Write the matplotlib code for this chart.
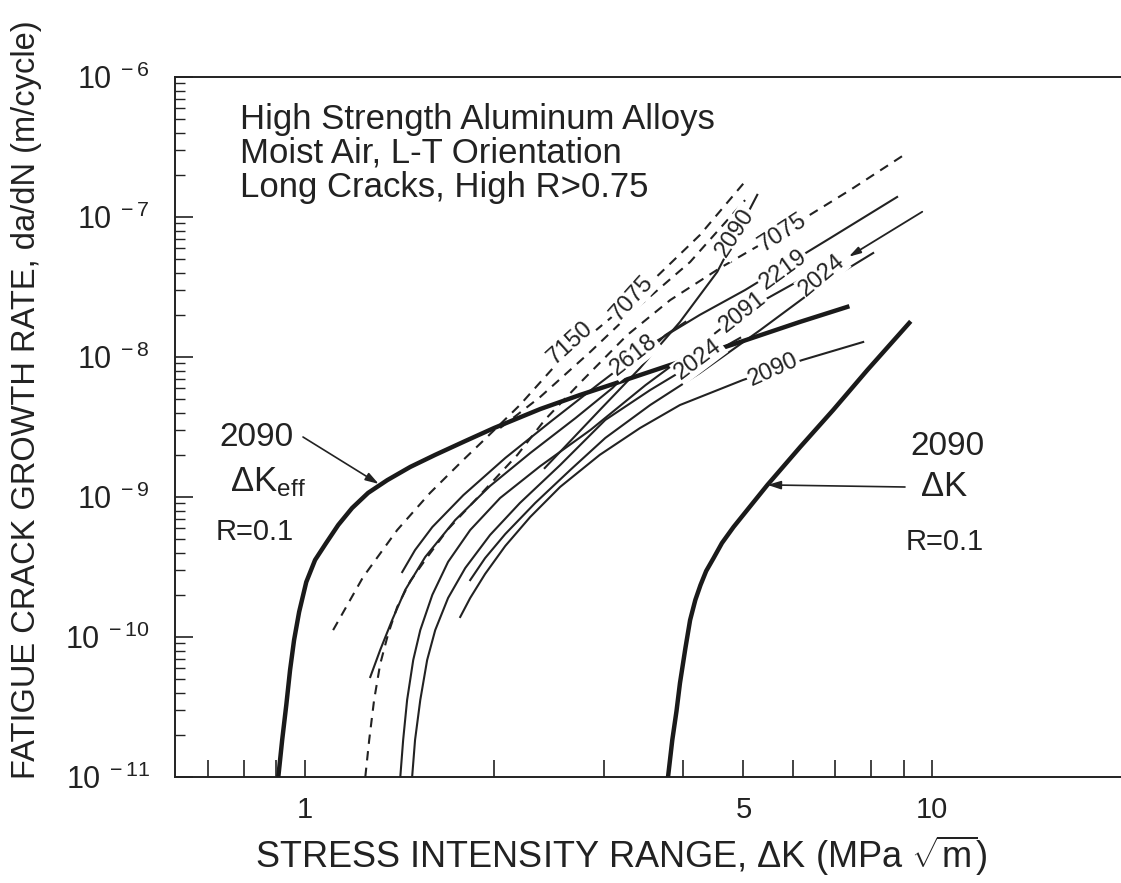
import math
import matplotlib
matplotlib.use('Agg')
import matplotlib.pyplot as plt
from matplotlib.ticker import FixedLocator, FixedFormatter, NullLocator, FuncFormatter

plt.rcParams['font.family'] = ['Liberation Sans', 'DejaVu Sans']
plt.rcParams['mathtext.fontset'] = 'custom'
plt.rcParams['mathtext.rm'] = 'Liberation Sans'
plt.rcParams['mathtext.it'] = 'Liberation Sans:italic'
plt.rcParams['mathtext.bf'] = 'Liberation Sans:bold'

# 2090, delta K_eff, R=0.1 (bold, left)
keff_2090_K = [0.906, 0.919, 0.933, 0.946, 0.960, 0.978, 1.004, 1.037, 1.080, 1.129, 1.188, 1.26, 1.352,
               1.471, 1.612, 1.80, 2.001, 2.371, 2.745, 3.099, 3.82, 4.89, 6.15, 7.32]
keff_2090_da = [1e-11, 1.84e-11, 3.27e-11, 5.81e-11, 9.5e-11, 1.51e-10, 2.47e-10, 3.55e-10, 4.69e-10, 6.31e-10,
                8.34e-10, 1.07e-9, 1.32e-9, 1.64e-9, 2.0e-9, 2.51e-9, 3.11e-9, 4.25e-9, 5.36e-9, 6.41e-9,
                8.77e-9, 1.26e-8, 1.78e-8, 2.28e-8]

# 2090, delta K, R=0.1 (bold, right)
dk_2090_K = [3.79, 3.85, 3.91, 3.96, 4.04, 4.11, 4.19, 4.27, 4.36, 4.48, 4.62, 4.82, 5.13, 5.46, 6.16, 6.95, 7.88, 9.19]
dk_2090_da = [1e-11, 1.84e-11, 2.96e-11, 4.69e-11, 8.34e-11, 1.32e-10, 1.84e-10, 2.35e-10, 2.96e-10, 3.66e-10,
              4.69e-10, 6.1e-10, 8.63e-10, 1.22e-9, 2.28e-9, 4.18e-9, 8.07e-9, 1.75e-8]

# high R long crack curves, dashed
a7150_K = [1.108, 1.237, 1.402, 1.582, 1.787, 1.95, 2.20, 2.55, 3.07, 3.59, 4.26, 5.07]
a7150_da = [1.12e-10, 2.68e-10, 5.81e-10, 1.07e-9, 1.84e-9, 2.68e-9, 4.54e-9, 9.5e-9, 1.90e-8, 3.55e-8, 7.43e-8, 1.87e-7]

a7075a_K = [2.046, 2.37, 2.85, 3.32, 4.11, 5.03]
a7075a_da = [3.11e-9, 5.18e-9, 1.09e-8, 2.09e-8, 4.77e-8, 1.32e-7]

a7075b_K = [1.247, 1.265, 1.288, 1.317, 1.356, 1.402, 1.471, 1.554, 1.685, 1.881, 2.18, 2.41, 2.75, 3.26, 3.82,
            4.59, 5.76, 7.40, 9.12]
a7075b_da = [1e-11, 1.84e-11, 3.55e-11, 6.4e-11, 1.05e-10, 1.64e-10, 2.51e-10, 3.55e-10, 5.81e-10, 9.84e-10,
             2.0e-9, 3.55e-9, 6.6e-9, 1.43e-8, 2.55e-8, 4.33e-8, 7.8e-8, 1.56e-7, 2.87e-7]

# high R long crack curves, solid
a2618_K = [1.27, 1.317, 1.376, 1.444, 1.554, 1.735, 1.972, 2.285, 2.70, 3.09, 3.42, 3.75, 4.04]
a2618_da = [5.18e-11, 8.07e-11, 1.32e-10, 2.17e-10, 3.73e-10, 6.85e-10, 1.20e-9, 2.06e-9, 3.67e-9, 6.0e-9,
            9.5e-9, 1.43e-8, 1.78e-8]

a2219_K = [1.428, 1.497, 1.595, 1.787, 2.085, 2.46, 2.95, 3.55, 4.26, 5.03, 6.88, 8.79]
a2219_da = [2.91e-10, 4.18e-10, 6.1e-10, 1.03e-9, 1.90e-9, 3.44e-9, 6.5e-9, 1.22e-8, 2.0e-8, 3.01e-8, 7.08e-8, 1.39e-7]

a2091_K = [1.418, 1.433, 1.454, 1.487, 1.526, 1.595, 1.69, 1.833, 2.046, 2.37, 2.85, 3.49, 4.26, 4.98, 6.16]
a2091_da = [1e-11, 1.84e-11, 3.55e-11, 6.85e-11, 1.12e-10, 2.0e-10, 3.44e-10, 5.81e-10, 9.84e-10, 1.66e-9,
            3.01e-9, 6.3e-9, 1.22e-8, 2.09e-8, 3.55e-8]

a2024a_K = [1.481, 1.497, 1.526, 1.565, 1.612, 1.69, 1.80, 1.972, 2.20, 2.55, 3.01, 3.55, 4.11, 4.94]
a2024a_da = [1e-11, 1.84e-11, 3.55e-11, 6.85e-11, 1.12e-10, 1.90e-10, 3.11e-10, 5.36e-10, 9.06e-10, 1.69e-9,
             3.55e-9, 5.81e-9, 8.63e-9, 1.37e-8]

a2024b_K = [1.833, 1.936, 2.085, 2.327, 2.647, 3.01, 3.55, 4.26, 5.32, 6.68, 8.05]
a2024b_da = [2.55e-10, 3.66e-10, 5.44e-10, 9.06e-10, 1.56e-9, 2.64e-9, 4.54e-9, 7.69e-9, 1.56e-8, 3.32e-8, 5.53e-8]

a2090_K = [1.767, 1.833, 1.936, 2.085, 2.285, 2.55, 2.95, 3.42, 3.96, 4.99, 6.20, 7.76]
a2090_da = [1.39e-10, 1.90e-10, 2.82e-10, 4.47e-10, 7.2e-10, 1.18e-9, 2.0e-9, 3.11e-9, 4.54e-9, 6.85e-9,
            9.5e-9, 1.28e-8]

a2090s_K = [2.41, 2.95, 3.42, 3.96, 4.54, 5.26]
a2090s_da = [1.61e-9, 4.18e-9, 8.34e-9, 1.78e-8, 4.05e-8, 1.44e-7]

# curve labels: text, K, da/dN, rotation
curve_labels = [
    ('7150', 2.647, 1.26e-8, 42),
    ('7075', 3.32, 2.64e-8, 48),
    ('2090', 4.85, 7.69e-8, 57),
    ('7075', 5.77, 7.69e-8, 33),
    ('2618', 3.34, 1.03e-8, 38),
    ('2219', 5.79, 4.18e-8, 36),
    ('2091', 4.98, 2.09e-8, 38),
    ('2024', 6.68, 3.85e-8, 40),
    ('2024', 4.24, 9.67e-9, 37),
    ('2090', 5.58, 8.07e-9, 24),
]

# axis ticks
x_ticks = [0.7, 0.8, 0.9, 1, 2, 3, 4, 5, 6, 7, 8, 9, 10]
x_tick_labels = ['', '', '', '1', '', '', '', '5', '', '', '', '', '10']
y_decades = [-11, -10, -9, -8, -7, -6]

W, H = 1121, 883
INK = '#222222'
fig = plt.figure(figsize=(W / 100, H / 100), dpi=100)
ax = fig.add_axes([175 / W, 1 - 777 / H, 1 - 175 / W, 700 / H])
ax.set_xscale('log')
ax.set_yscale('log')
ax.set_xlim(0.62, 20.0)
ax.set_ylim(1e-11, 1e-6)

dash = (0, (4.5, 3.5))
for K, da in [(a7150_K, a7150_da), (a7075a_K, a7075a_da), (a7075b_K, a7075b_da)]:
    ax.plot(K, da, color=INK, lw=1.5, linestyle=dash, zorder=2)
for K, da in [(a2618_K, a2618_da), (a2219_K, a2219_da), (a2091_K, a2091_da),
              (a2024a_K, a2024a_da), (a2024b_K, a2024b_da), (a2090_K, a2090_da),
              (a2090s_K, a2090s_da)]:
    ax.plot(K, da, color=INK, lw=1.5, zorder=2)
ax.plot(keff_2090_K, keff_2090_da, color='#1a1a1a', lw=3.2, zorder=3, solid_joinstyle='round')
ax.plot(dk_2090_K, dk_2090_da, color='#1a1a1a', lw=3.2, zorder=3, solid_joinstyle='round')

for txt, k, d, rot in curve_labels:
    ax.text(k, d, txt, fontsize=17, rotation=rot, rotation_mode='anchor',
            ha='center', va='center', color=INK, zorder=5,
            bbox=dict(boxstyle='square,pad=0.06', fc='white', ec='none'))

ax.xaxis.set_major_locator(FixedLocator(x_ticks))
ax.xaxis.set_major_formatter(FixedFormatter(x_tick_labels))
ax.xaxis.set_minor_locator(NullLocator())
ax.tick_params(axis='x', which='major', direction='in', length=12, width=1.2,
               labelsize=21, pad=14, top=False, colors=INK)

ax.yaxis.set_major_locator(FixedLocator([10.0 ** e for e in y_decades]))
ax.yaxis.set_minor_locator(FixedLocator([m * 10.0 ** e for e in y_decades[:-1] for m in range(2, 10)]))
ax.yaxis.set_major_formatter(FuncFormatter(lambda v, p: r'$\mathregular{10^{\ -%d}}$' % round(-math.log10(v))))
ax.yaxis.set_minor_formatter(FixedFormatter([]))
ax.tick_params(axis='y', which='major', direction='in', length=13, width=1.2,
               labelsize=22, pad=18, right=False, colors=INK)
ax.tick_params(axis='y', which='minor', direction='in', length=7, width=1.0, right=False, colors=INK)

for s in ['left', 'bottom', 'top']:
    ax.spines[s].set_linewidth(1.4)
    ax.spines[s].set_color(INK)
ax.spines['right'].set_visible(False)


def fx(px):
    return px / W


def fy(py):
    return 1 - py / H


fig.text(fx(27), fy(400), 'FATIGUE CRACK GROWTH RATE, da/dN (m/cycle)', rotation=90,
         fontsize=23.5, ha='center', va='center', color=INK)
fig.text(fx(621), fy(856), r'STRESS INTENSITY RANGE, $\Delta$K (MPa $\sqrt{\mathregular{m}}$)',
         fontsize=26, ha='center', va='center', color=INK)

for i, line in enumerate(['High Strength Aluminum Alloys', 'Moist Air, L-T Orientation',
                          'Long Cracks, High R>0.75']):
    fig.text(fx(240), fy(119 + 34 * i), line, fontsize=25, ha='left', va='center', color=INK)

# left annotation
fig.text(fx(256), fy(437), '2090', fontsize=24, ha='center', va='center', color=INK)
fig.text(fx(268), fy(482), r'$\Delta$K$_{\mathregular{eff}}$', fontsize=25, ha='center', va='center', color=INK)
fig.text(fx(255), fy(532), 'R=0.1', fontsize=21, ha='center', va='center', color=INK)
ax.annotate('', xy=(1.31, 1.24e-9), xycoords='data', xytext=(fx(303), fy(437)), textcoords='figure fraction',
            arrowprops=dict(arrowstyle='-|>,head_length=0.8,head_width=0.25', color=INK, lw=1.2,
                            shrinkA=0, shrinkB=0))

# right annotation
fig.text(fx(947), fy(447), '2090', fontsize=24, ha='center', va='center', color=INK)
fig.text(fx(944), fy(487), r'$\Delta$K', fontsize=25, ha='center', va='center', color=INK)
fig.text(fx(945), fy(542), 'R=0.1', fontsize=21, ha='center', va='center', color=INK)
ax.annotate('', xy=(5.46, 1.22e-9), xycoords='data', xytext=(fx(905), fy(487)), textcoords='figure fraction',
            arrowprops=dict(arrowstyle='-|>,head_length=0.8,head_width=0.25', color=INK, lw=1.2,
                            shrinkA=0, shrinkB=0))

# arrow pointing to upper 2024 label
ax.annotate('', xy=(7.36, 5.2e-8), xycoords='data', xytext=(9.64, 1.09e-7), textcoords='data',
            arrowprops=dict(arrowstyle='-|>,head_length=0.7,head_width=0.2', color=INK, lw=1.3,
                            shrinkA=0, shrinkB=0))

fig.savefig('out.png', dpi=100, facecolor='white')
